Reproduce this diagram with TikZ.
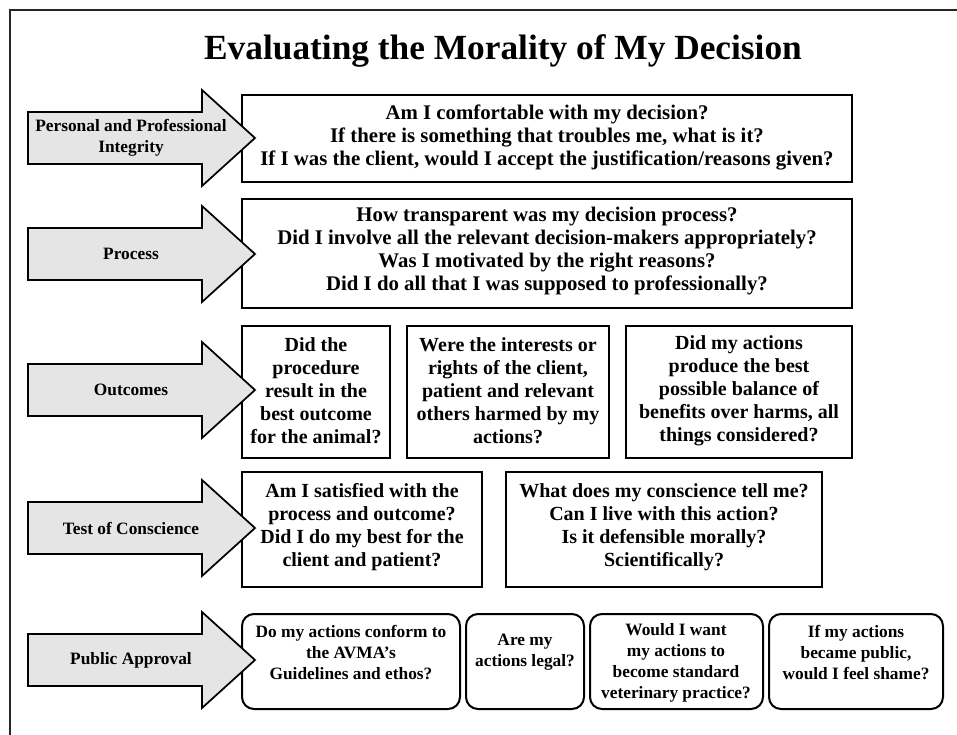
\documentclass[tikz,border=0pt]{standalone}
\usepackage{fontspec}
\setmainfont{Liberation Serif}
\usepackage{xcolor}

\tikzset{
  qbox/.style={draw, line width=1.5pt},
  rbox/.style={draw, line width=1.5pt, rounded corners=9pt},
  qtext/.style={align=center, font=\fontsize{15.6}{17.25}\selectfont\bfseries},
  otext/.style={align=center, font=\fontsize{15}{17.25}\selectfont\bfseries},
  ptext/.style={align=center, font=\fontsize{13}{15.75}\selectfont\bfseries},
  stagearrow/.style={draw, line width=1.3pt, fill=black!10, line join=miter},
  stagelabel/.style={align=center, font=\fontsize{13}{15.75}\selectfont\bfseries},
}

\begin{document}
\begin{tikzpicture}[x=0.75pt, y=-0.75pt]
                \useasboundingbox (0,0) rectangle (957,735);
                \draw [line width=0.8pt, black!85] (10,735) -- (10,10) -- (957,10);

                \node[font=\fontsize{26.5}{30}\selectfont\bfseries] (title) at (503,51) {Evaluating the Morality of My Decision};

                % integrity
                \draw [qbox] (242,95) rectangle (852,182);
                \node[qtext] (comfort) at (547,137) {Am I comfortable with my decision?\\If there is something that troubles me, what is it?\\If I was the client, would I accept the justification/reasons given?};
                \draw [stagearrow] (28,112) -- ++(174,0) -- ++(0,-22) -- (255,138) -- ++(-53,48) -- ++(0,-22) -- ++(-174,0) -- cycle;
                \node[stagelabel] (integrity) at (131,138) {Personal and Professional\\Integrity};

                % process
                \draw [qbox] (242,199) rectangle (852,308);
                \node[qtext] (transparent) at (547,251) {How transparent was my decision process?\\Did I involve all the relevant decision-makers appropriately?\\Was I motivated by the right reasons?\\Did I do all that I was supposed to professionally?};
                \draw [stagearrow] (28,228) -- ++(174,0) -- ++(0,-22) -- (255,254) -- ++(-53,48) -- ++(0,-22) -- ++(-174,0) -- cycle;
                \node[stagelabel] (process) at (131,254) {Process};

                % outcomes
                \draw [qbox] (242,326) rectangle (390,458);
                \node[otext] (animal) at (316,391) {Did the\\procedure\\result in the\\best outcome\\for the animal?};
                \draw [qbox] (407,326) rectangle (609,458);
                \node[otext] (harmed) at (508,391) {Were the interests or\\rights of the client,\\patient and relevant\\others harmed by my\\actions?};
                \draw [qbox] (626,326) rectangle (852,458);
                \node[otext] (balance) at (739,391) {Did my actions\\produce the best\\possible balance of\\benefits over harms, all\\things considered?};
                \draw [stagearrow] (28,364) -- ++(174,0) -- ++(0,-22) -- (255,390) -- ++(-53,48) -- ++(0,-22) -- ++(-174,0) -- cycle;
                \node[stagelabel] (outcomes) at (131,390) {Outcomes};

                % conscience
                \draw [qbox] (242,472) rectangle (482,587);
                \node[otext] (satisfied) at (362,527) {Am I satisfied with the\\process and outcome?\\Did I do my best for the\\client and patient?};
                \draw [qbox] (506,472) rectangle (822,587);
                \node[otext] (tellme) at (664,527) {What does my conscience tell me?\\Can I live with this action?\\Is it defensible morally?\\Scientifically?};
                \draw [stagearrow] (28,502) -- ++(174,0) -- ++(0,-22) -- (255,528) -- ++(-53,48) -- ++(0,-22) -- ++(-174,0) -- cycle;
                \node[stagelabel] (conscience) at (131,528) {Test of Conscience};

                % public approval
                \draw [rbox] (242,614) rectangle (460,709);
                \node[ptext] (conform) at (351,653) {Do my actions conform to\\the AVMA's\\Guidelines and ethos?};
                \draw [rbox] (466,614) rectangle (584,709);
                \node[ptext] (legal) at (525,652) {Are my\\actions legal?};
                \draw [rbox] (590,614) rectangle (763,709);
                \node[ptext] (standard) at (676,663) {Would I want\\my actions to\\become standard\\veterinary practice?};
                \draw [rbox] (769,614) rectangle (943,709);
                \node[ptext] (shame) at (856,653) {If my actions\\became public,\\would I feel shame?};
                \draw [stagearrow] (28,634) -- ++(174,0) -- ++(0,-22) -- (255,660) -- ++(-53,48) -- ++(0,-22) -- ++(-174,0) -- cycle;
                \node[stagelabel] (public) at (131,660) {Public Approval};
\end{tikzpicture}
\end{document}
